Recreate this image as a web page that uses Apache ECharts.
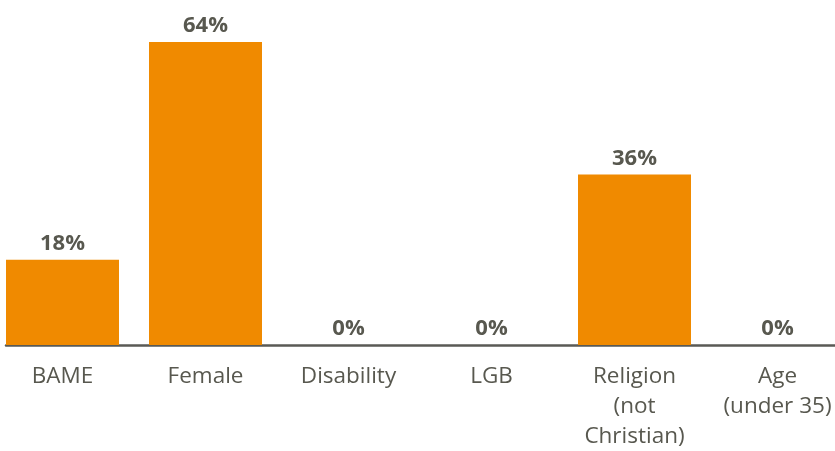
<!DOCTYPE html>
<html>
<head>
<meta charset="utf-8">
<script src="https://cdn.jsdelivr.net/npm/echarts@6/dist/echarts.min.js"></script>
<style>
  html, body { margin: 0; padding: 0; background: #ffffff; }
  #chart { width: 835px; height: 451px; }
</style>
</head>
<body>
<div id="chart"></div>
<script>
// Share of each group, in percent
const categories = ['BAME', 'Female', 'Disability', 'LGB', 'Religion\n(not\nChristian)', 'Age\n(under 35)'];
const values = [18, 64, 0, 0, 36, 0];

const textColor = '#58584f';
const barColor = '#f08a00';
const fontFamily = '"Open Sans", "Noto Sans", sans-serif';

const chart = echarts.init(document.getElementById('chart'), null, { renderer: 'canvas' });

chart.setOption({
  animation: false,
  grid: [
    // bars: categories spread across a slightly wider band than the window
    { left: -9, right: -14, top: 42, bottom: 106, outerBoundsMode: 'none', containLabel: false },
    // baseline only
    { left: 6, right: 0, top: 42, bottom: 106, outerBoundsMode: 'none', containLabel: false }
  ],
  xAxis: [
    {
      type: 'category',
      gridIndex: 0,
      data: categories,
      axisLine: { show: false },
      axisTick: { show: false },
      axisLabel: {
        color: textColor,
        fontFamily: fontFamily,
        fontSize: 22.5,
        lineHeight: 30,
        margin: 17,
        interval: 0
      }
    },
    {
      type: 'value',
      gridIndex: 1,
      min: 0,
      max: 1,
      axisLine: { show: true, onZero: false, lineStyle: { color: '#5a5a55', width: 2.5 } },
      axisTick: { show: false },
      axisLabel: { show: false },
      splitLine: { show: false }
    }
  ],
  yAxis: [
    { type: 'value', gridIndex: 0, min: 0, max: 64, show: false, splitLine: { show: false } },
    { type: 'value', gridIndex: 1, min: 0, max: 1, show: false, splitLine: { show: false } }
  ],
  series: [
    {
      type: 'bar',
      xAxisIndex: 0,
      yAxisIndex: 0,
      data: values,
      barWidth: 113,
      itemStyle: { color: barColor },
      label: {
        show: true,
        position: 'top',
        distance: 5,
        formatter: '{c}%',
        color: textColor,
        fontFamily: fontFamily,
        fontWeight: 'bold',
        fontSize: 22
      }
    }
  ]
});
</script>
</body>
</html>
